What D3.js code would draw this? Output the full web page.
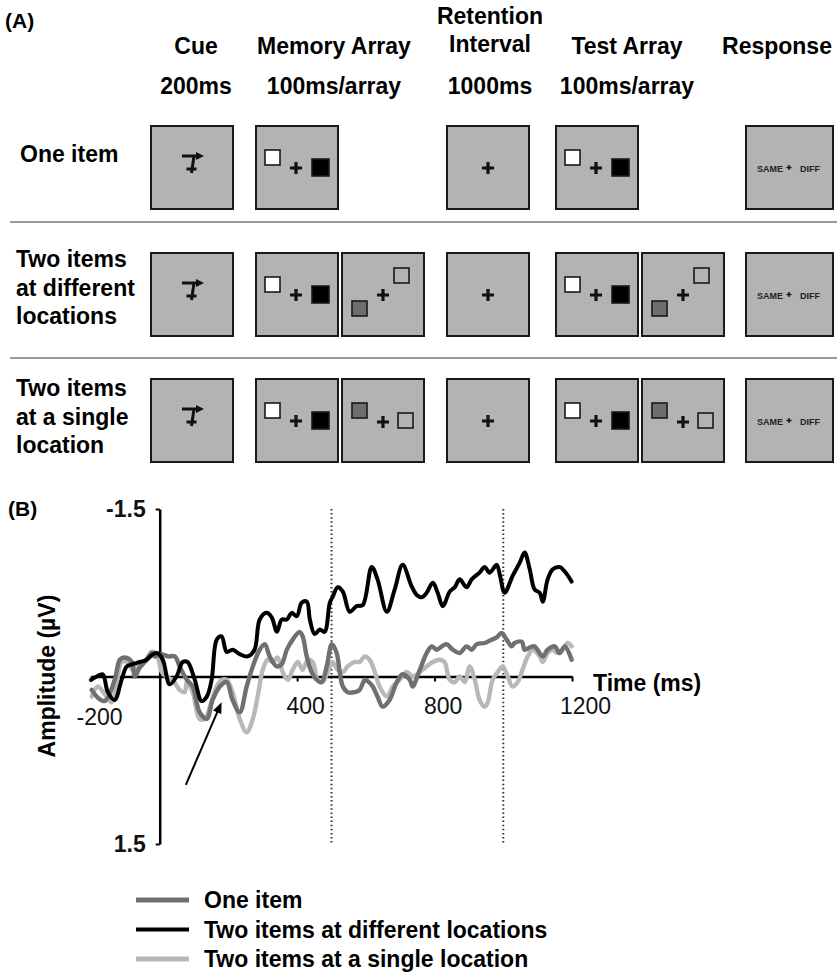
<!DOCTYPE html>
<html><head><meta charset="utf-8">
<script src="https://cdn.jsdelivr.net/npm/d3@7"></script>
<style>
body{margin:0;background:#fff}
svg{display:block}
text{font-family:"Liberation Sans",Arial,sans-serif}
</style></head><body>
<svg id="fig" width="837" height="975"></svg>
<script>
// ---- panel A texts
var stageNames = [["Cue"],["Memory Array"],["Retention","Interval"],["Test Array"],["Response"]]
var stageDurations = ["200ms","100ms/array","1000ms","100ms/array",""]
var conditionLabels = [["One item"],["Two items","at different","locations"],["Two items","at a single","location"]]
var responseWords = ["SAME","DIFF"]

// ---- panel B data (time ms, amplitude µV)
var xTicks = [-200,400,800,1200]
var yTicks = [-1.5,1.5]
var markerTimes = [500,1000]
var seriesNames = ["One item","Two items at different locations","Two items at a single location"]
var oneItem = [[-198,0.12],[-180,0.19],[-160,0.22],[-131,0.03],[-116,-0.15],[-102,-0.17],[-81,-0.13],[-73,0.00],[-58,-0.08],[-38,-0.15],[-23,-0.21],[-15,-0.18],[6,-0.20],[23,-0.18],[44,-0.18],[58,-0.09],[79,0.03],[96,0.09],[116,0.32],[137,0.38],[154,0.21],[175,0.09],[195,0.05],[212,0.21],[233,0.32],[253,0.09],[271,-0.09],[291,-0.24],[306,-0.29],[320,-0.18],[341,-0.09],[355,-0.11],[370,-0.24],[387,-0.33],[407,-0.40],[416,-0.36],[428,-0.18],[442,-0.04],[457,0.03],[471,0.05],[486,-0.09],[501,-0.29],[515,-0.21],[524,-0.04],[533,0.09],[547,0.14],[568,0.14],[582,0.12],[597,0.03],[605,0.04],[620,0.09],[634,0.18],[649,0.27],[669,0.21],[690,0.05],[707,-0.02],[728,0.03],[736,0.09],[757,-0.06],[777,-0.21],[792,-0.27],[806,-0.24],[821,-0.27],[835,-0.29],[853,-0.24],[873,-0.21],[893,-0.27],[908,-0.24],[923,-0.29],[946,-0.30],[966,-0.33],[981,-0.35],[995,-0.39],[1010,-0.33],[1024,-0.27],[1033,-0.30],[1054,-0.31],[1062,-0.24],[1077,-0.26],[1091,-0.27],[1115,-0.18],[1129,-0.24],[1150,-0.27],[1164,-0.21],[1179,-0.27],[1199,-0.15]]
var twoDifferent = [[-200,0.03],[-183,0.00],[-166,-0.02],[-151,0.14],[-131,0.21],[-111,0.03],[-96,-0.09],[-79,-0.11],[-58,-0.13],[-38,-0.15],[-20,-0.20],[-6,-0.21],[9,-0.15],[29,0.07],[49,0.00],[67,-0.13],[81,-0.13],[102,0.03],[122,0.22],[137,0.18],[151,0.03],[166,-0.33],[180,-0.36],[195,-0.22],[212,-0.24],[233,-0.20],[256,-0.18],[276,-0.24],[291,-0.51],[311,-0.57],[326,-0.53],[341,-0.40],[355,-0.51],[370,-0.51],[384,-0.57],[399,-0.54],[413,-0.66],[428,-0.67],[437,-0.51],[451,-0.38],[466,-0.42],[480,-0.40],[495,-0.66],[503,-0.71],[518,-0.80],[533,-0.76],[553,-0.58],[573,-0.63],[591,-0.64],[617,-0.98],[634,-0.87],[661,-0.58],[684,-0.78],[707,-1.00],[733,-0.81],[748,-0.73],[763,-0.71],[777,-0.75],[795,-0.84],[809,-0.75],[824,-0.63],[844,-0.76],[859,-0.80],[873,-0.87],[893,-0.80],[908,-0.87],[931,-0.93],[946,-0.98],[960,-0.93],[981,-1.00],[990,-0.91],[1004,-0.75],[1027,-0.90],[1048,-1.02],[1062,-1.11],[1077,-0.96],[1091,-0.78],[1106,-0.75],[1115,-0.67],[1129,-0.87],[1144,-0.96],[1164,-0.98],[1179,-0.94],[1199,-0.85]]
var twoSingle = [[-198,0.18],[-180,0.09],[-160,0.16],[-140,0.23],[-125,0.05],[-111,-0.13],[-93,-0.13],[-79,-0.06],[-58,-0.11],[-44,-0.13],[-23,-0.22],[-9,-0.20],[6,-0.04],[23,0.01],[38,0.03],[58,0.12],[73,0.14],[79,0.05],[96,0.14],[116,0.38],[131,0.38],[146,0.27],[166,0.09],[180,0.03],[195,0.03],[212,0.14],[233,0.38],[253,0.50],[271,0.38],[285,0.18],[300,-0.06],[314,-0.15],[329,-0.13],[343,-0.17],[358,-0.04],[373,0.03],[387,-0.06],[402,-0.13],[416,-0.06],[431,-0.15],[445,-0.13],[460,0.03],[474,0.05],[489,-0.04],[503,-0.13],[518,-0.06],[533,-0.04],[547,-0.09],[568,-0.13],[582,-0.13],[597,-0.18],[611,-0.15],[626,-0.04],[640,0.09],[661,0.18],[678,0.09],[698,0.03],[719,-0.04],[736,0.00],[757,-0.04],[777,-0.09],[795,-0.13],[815,-0.15],[829,-0.13],[844,0.03],[859,0.05],[873,0.00],[888,0.05],[902,-0.09],[917,0.03],[931,0.21],[946,0.27],[955,0.23],[969,0.03],[984,-0.04],[998,-0.09],[1013,0.00],[1027,0.09],[1042,0.05],[1056,-0.06],[1071,-0.18],[1086,-0.24],[1106,-0.18],[1115,-0.13],[1129,-0.21],[1144,-0.24],[1158,-0.21],[1173,-0.24],[1187,-0.30],[1199,-0.27]]
var arrowFrom = [76,0.97]
var arrowTo = [180,0.23]

var svg = d3.select("#fig")
var boxFill = "#b3b3b3"
var ink = "#1a1a1a"

// ================= panel A =================
var pA = svg.append("g")
pA.append("text").attr("x",5).attr("y",28).attr("font-size",21).attr("font-weight","bold").text("(A)")

var headerX = [196,334,490,627,777]
stageNames.forEach(function(lines,i){
    var baseY = lines.length==2 ? 24 : 54
    lines.forEach(function(l,j){
        pA.append("text").attr("x",headerX[i]).attr("y",baseY+j*28)
            .attr("text-anchor","middle").attr("font-size",23).attr("font-weight","bold").text(l)
    })
    if(stageDurations[i]!=""){
        pA.append("text").attr("x",headerX[i]).attr("y",94)
            .attr("text-anchor","middle").attr("font-size",23).attr("font-weight","bold").text(stageDurations[i])
    }
})

var rowTop = [126,253,379]
var labelY = [162,267,396]
conditionLabels.forEach(function(lines,i){
    lines.forEach(function(l,j){
        pA.append("text").attr("x",i==0?20:16).attr("y",labelY[i]+j*28.5)
            .attr("font-size",23).attr("font-weight","bold").text(l)
    })
})

// separators
;[222,358].forEach(function(y){
    pA.append("line").attr("x1",10).attr("x2",837).attr("y1",y).attr("y2",y)
        .attr("stroke","#9a9a9a").attr("stroke-width",2)
})

function frame(x,y,w,h){
    var g = pA.append("g").attr("transform","translate("+x+","+y+")")
    g.append("rect").attr("x",0).attr("y",0).attr("width",w).attr("height",h)
        .attr("fill",boxFill).attr("stroke",ink).attr("stroke-width",2)
    return g
}
function cross(g,cx,cy,r,w){
    g.append("path").attr("d","M"+(cx-r)+","+cy+"H"+(cx+r)+"M"+cx+","+(cy-r)+"V"+(cy+r))
        .attr("stroke","#111").attr("stroke-width",w||3.2).attr("fill","none")
}
function square(g,x,y,s,fill){
    g.append("rect").attr("x",x).attr("y",y).attr("width",s).attr("height",s)
        .attr("fill",fill).attr("stroke",ink).attr("stroke-width",1.6)
}
function cueBox(x,y){
    var g = frame(x,y,82,83)
    // fixation cross with arrow cue above it
    g.append("path").attr("d","M43,30L40.5,47M35.5,43H45.5M31,30H46").attr("stroke","#111").attr("stroke-width",3).attr("fill","none")
    g.append("path").attr("d","M45,26L53,30L45,34Z").attr("fill","#111")
}
function arrayOne(x,y){
    var g = frame(x,y,82,83)
    square(g,9,24,15,"#fff")
    cross(g,40,42,6)
    square(g,56,33,17,"#000")
}
function arrayDiff(x,y){
    var g = frame(x,y,82,83)
    square(g,10,48,15,"#6e6e6e")
    cross(g,41,42,6)
    square(g,52,15,15,boxFill)
}
function arraySame(x,y){
    var g = frame(x,y,82,83)
    square(g,10,24,15,"#6e6e6e")
    cross(g,41,43,6)
    square(g,56,34,15,boxFill)
}
function retentionBox(x,y){
    var g = frame(x,y,82,83)
    cross(g,41,42,6)
}
function responseBox(x,y){
    var g = frame(x,y,87,83)
    g.append("text").attr("x",11).attr("y",46).attr("font-size",9).attr("font-weight","bold").attr("fill","#222").text(responseWords[0])
    cross(g,43,41.5,2.5,1.4)
    g.append("text").attr("x",54).attr("y",46).attr("font-size",9).attr("font-weight","bold").attr("fill","#222").text(responseWords[1])
}

rowTop.forEach(function(y,i){
    cueBox(151,y)
    arrayOne(256,y)
    retentionBox(447,y)
    arrayOne(556,y)
    responseBox(746,y)
    if(i==1){ arrayDiff(342,y); arrayDiff(642,y) }
    if(i==2){ arraySame(342,y); arraySame(642,y) }
})

// ================= panel B =================
var x = d3.scaleLinear().domain([-200,1200]).range([91,572])
var y = d3.scaleLinear().domain([-1.5,1.5]).range([509,844])

svg.append("text").attr("x",8).attr("y",516).attr("font-size",21).attr("font-weight","bold").text("(B)")

// dotted markers
svg.selectAll(".marker").data(markerTimes).enter().append("line")
    .attr("class","marker")
    .attr("x1",function(d){return x(d)}).attr("x2",function(d){return x(d)})
    .attr("y1",y(-1.5)).attr("y2",y(1.5))
    .attr("stroke","#333").attr("stroke-width",2).attr("stroke-dasharray","1.5,2.6")

// axes
var xAxis = svg.append("g").attr("transform","translate(0,"+y(0)+")")
    .call(d3.axisBottom(x).tickValues(xTicks).tickSize(5).tickSizeOuter(0).tickPadding(0)
        .tickFormat(function(d){return String(d)}))
xAxis.select(".domain").attr("stroke","#000").attr("stroke-width",2.5)
xAxis.selectAll(".tick line").attr("stroke","#000").attr("stroke-width",2)
xAxis.selectAll(".tick text").attr("font-size",23).attr("fill","#111")
    .attr("font-family","'Liberation Sans',Arial,sans-serif")
    .attr("y",function(d){return d==-200?48:37}).attr("dy",0)
    .attr("dx",function(d){return d==1200?13:8})

var yAxis = svg.append("g").attr("transform","translate("+x(0)+",0)")
    .call(d3.axisLeft(y).tickValues(yTicks).tickSize(4).tickSizeOuter(0).tickPadding(10)
        .tickFormat(function(d){return (d<0?"-":"")+Math.abs(d).toFixed(1)}))
yAxis.select(".domain").attr("stroke","#000").attr("stroke-width",2.5)
yAxis.selectAll(".tick line").attr("stroke","#000").attr("stroke-width",2)
yAxis.selectAll(".tick text").attr("font-size",23).attr("font-weight","bold").attr("fill","#111")
    .attr("font-family","'Liberation Sans',Arial,sans-serif")

svg.append("text").attr("x",593).attr("y",691).attr("font-size",23).attr("font-weight","bold").text("Time (ms)")
svg.append("text").attr("transform","translate(55,676) rotate(-90)").attr("text-anchor","middle")
    .attr("font-size",23).attr("font-weight","bold").text("Amplitude (\u00b5V)")

// waveforms
var line = d3.line().x(function(d){return x(d[0])}).y(function(d){return y(d[1])}).curve(d3.curveCatmullRom.alpha(0.5))
var waves = [
    {data:twoSingle, color:"#b8b8b8", w:4.4},
    {data:oneItem, color:"#707070", w:4.4},
    {data:twoDifferent, color:"#000", w:4}
]
svg.selectAll(".wave").data(waves).enter().append("path")
    .attr("class","wave")
    .attr("d",function(d){return line(d.data)})
    .attr("fill","none").attr("stroke",function(d){return d.color})
    .attr("stroke-width",function(d){return d.w})
    .attr("stroke-linejoin","round").attr("stroke-linecap","round")

// arrow
var ax1 = x(arrowFrom[0]), ay1 = y(arrowFrom[1]), ax2 = x(arrowTo[0]), ay2 = y(arrowTo[1])
var ang = Math.atan2(ay2-ay1, ax2-ax1)
svg.append("line").attr("x1",ax1).attr("y1",ay1)
    .attr("x2",ax2-8*Math.cos(ang)).attr("y2",ay2-8*Math.sin(ang))
    .attr("stroke","#000").attr("stroke-width",2)
var hl = 11, hw = 4.5
svg.append("path").attr("d","M"+ax2+","+ay2+
    "L"+(ax2-hl*Math.cos(ang)+hw*Math.sin(ang))+","+(ay2-hl*Math.sin(ang)-hw*Math.cos(ang))+
    "L"+(ax2-hl*Math.cos(ang)-hw*Math.sin(ang))+","+(ay2-hl*Math.sin(ang)+hw*Math.cos(ang))+"Z")
    .attr("fill","#000")

// legend
var legendColors = ["#707070","#000","#b8b8b8"]
var legend = svg.selectAll(".leg").data(seriesNames).enter().append("g")
    .attr("class","leg").attr("transform",function(d,i){return "translate(136,"+(900+i*29.5)+")"})
legend.append("line").attr("x1",0).attr("x2",53).attr("y1",0).attr("y2",0)
    .attr("stroke",function(d,i){return legendColors[i]}).attr("stroke-width",function(d,i){return i==1?4:5})
legend.append("text").attr("x",68).attr("y",8).attr("font-size",23).attr("font-weight","bold").text(function(d){return d})
</script>
</body></html>
